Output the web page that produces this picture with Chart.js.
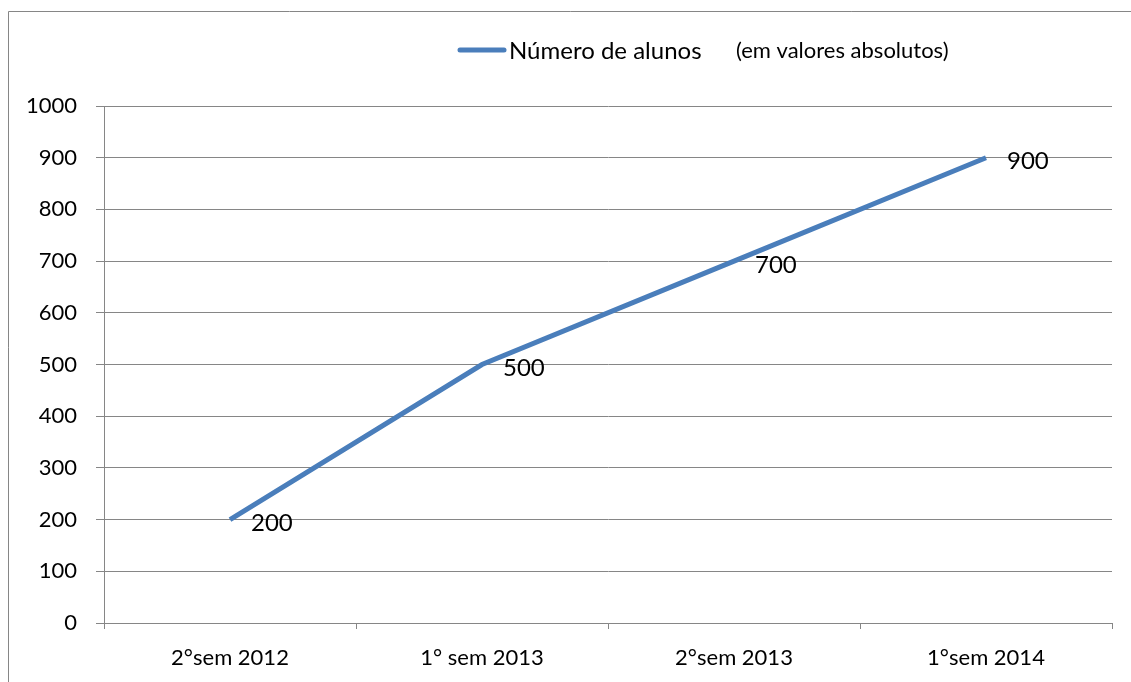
<!DOCTYPE html>
<html>
<head>
<meta charset="utf-8">
<script src="https://cdn.jsdelivr.net/npm/chart.js@4/dist/chart.umd.min.js"></script>
<style>
  html, body { margin: 0; padding: 0; background: #fff; }
  #wrap { width: 1131px; height: 682px; position: relative; }
</style>
</head>
<body>
<div id="wrap"><canvas id="chart" width="1131" height="682"></canvas></div>
<script>
// dados do gráfico
const semestres = ["2°sem 2012", "1° sem 2013", "2°sem 2013", "1°sem 2014"];
const alunos = [200, 500, 700, 900];
const serieNome = "Número de alunos";
const serieNota = "(em valores absolutos)";

const azul = "#4a7ebb";
const cinza = "#868686";
const fonte = "Lato, 'Open Sans', sans-serif";

// moldura, legenda e rótulos dos pontos
const extras = {
  id: "extras",
  afterDraw(chart) {
    const ctx = chart.ctx;
    ctx.save();

    // moldura (só esquerda e topo aparecem no recorte)
    ctx.strokeStyle = cinza;
    ctx.lineWidth = 1;
    ctx.beginPath();
    ctx.moveTo(8.5, 700);
    ctx.lineTo(8.5, 11.5);
    ctx.lineTo(1140, 11.5);
    ctx.stroke();

    // legenda
    ctx.strokeStyle = azul;
    ctx.lineWidth = 5;
    ctx.lineCap = "round";
    ctx.beginPath();
    ctx.moveTo(460, 50);
    ctx.lineTo(504, 50);
    ctx.stroke();
    ctx.fillStyle = "#000";
    ctx.textBaseline = "middle";
    ctx.textAlign = "left";
    ctx.font = "24px " + fonte;
    ctx.fillText(serieNome, 509, 51);
    ctx.font = "22px " + fonte;
    ctx.fillText(serieNota, 736, 51);

    // rótulos de dados
    const meta = chart.getDatasetMeta(0);
    ctx.font = "24px " + fonte;
    meta.data.forEach((pt, i) => {
      ctx.fillText(String(alunos[i]), pt.x + 21, pt.y + 4);
    });
    ctx.restore();
  }
};

new Chart(document.getElementById("chart"), {
  type: "line",
  data: {
    labels: semestres,
    datasets: [{
      label: serieNome,
      data: alunos,
      borderColor: azul,
      borderWidth: 5,
      pointRadius: 0,
      tension: 0,
      fill: false
    }]
  },
  options: {
    responsive: false,
    animation: false,
    layout: { padding: { top: 106, right: 19, left: 0, bottom: 0 } },
    plugins: {
      legend: { display: false },
      tooltip: { enabled: false }
    },
    scales: {
      x: {
        offset: true,
        afterFit: s => { s.height = 59; },
        grid: {
          offset: true,
          drawOnChartArea: false,
          drawTicks: true,
          tickLength: 6,
          color: cinza
        },
        border: { color: cinza, width: 1 },
        ticks: {
          color: "#000",
          font: { family: fonte, size: 22 },
          padding: 16,
          maxRotation: 0
        }
      },
      y: {
        min: 0,
        max: 1000,
        afterFit: s => { s.width = 104; },
        grid: { color: cinza, tickLength: 8 },
        border: { color: cinza, width: 1 },
        ticks: {
          stepSize: 100,
          color: "#000",
          font: { family: fonte, size: 22 },
          padding: 19,
          callback: v => String(v)
        }
      }
    }
  },
  plugins: [extras]
});
</script>
</body>
</html>
